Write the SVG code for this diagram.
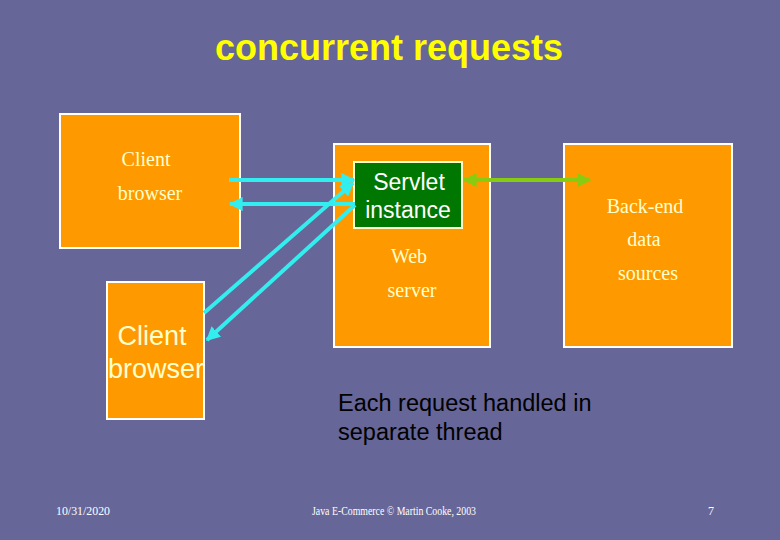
<svg xmlns="http://www.w3.org/2000/svg" width="780" height="540" viewBox="0 0 780 540">
<defs>
<style>
.box{fill:#FF9900;stroke:#FFFFFF;stroke-width:2}
.serif{font-family:"Liberation Serif",serif;font-size:20px;fill:#FFFFCC}
.sans{font-family:"Liberation Sans",Arial,sans-serif}
.cy{stroke:#33EEEE;stroke-width:4;fill:none}
.gr{stroke:#88CC11;stroke-width:4;fill:none}
.foot{font-family:"Liberation Serif",serif;font-size:12px;fill:#FFFFFF}
</style>
<marker id="ac" viewBox="0 0 10 10" refX="9" refY="5" markerWidth="3.5" markerHeight="3.5" orient="auto-start-reverse" markerUnits="strokeWidth"><path d="M0,0 L10,5 L0,10 z" fill="#33EEEE"/></marker>
<marker id="ag" viewBox="0 0 10 10" refX="9" refY="5" markerWidth="3.5" markerHeight="3.5" orient="auto-start-reverse" markerUnits="strokeWidth"><path d="M0,0 L10,5 L0,10 z" fill="#88CC11"/></marker>
</defs>
<rect x="0" y="0" width="780" height="540" fill="#666699"/>
<text x="389" y="60" text-anchor="middle" class="sans" font-size="36" font-weight="bold" fill="#FFFF00">concurrent requests</text>
<g id="client1">
<rect class="box" x="60" y="114" width="180" height="134"/>
<text class="serif" x="146" y="166" text-anchor="middle">Client</text>
<text class="serif" x="150" y="200" text-anchor="middle">browser</text>
</g>
<g id="webserver">
<rect class="box" x="334" y="144" width="156" height="203"/>
<text class="serif" x="409" y="263" text-anchor="middle">Web</text>
<text class="serif" x="412" y="297" text-anchor="middle">server</text>
</g>
<g id="servlet">
<rect x="354" y="162" width="108" height="66" fill="#007700" stroke="#FFFFCC" stroke-width="2"/>
<text class="sans" x="409" y="190" text-anchor="middle" font-size="23" fill="#FFFFFF">Servlet</text>
<text class="sans" x="408" y="218" text-anchor="middle" font-size="23" fill="#FFFFFF">instance</text>
</g>
<g id="backend">
<rect class="box" x="564" y="144" width="168" height="203"/>
<text class="serif" x="645" y="213" text-anchor="middle">Back-end</text>
<text class="serif" x="644" y="246" text-anchor="middle">data</text>
<text class="serif" x="648" y="280" text-anchor="middle">sources</text>
</g>
<g id="client2">
<rect class="box" x="107" y="282" width="97" height="137"/>
<text class="sans" x="152" y="345" text-anchor="middle" font-size="27" fill="#FFFFCC">Client</text>
<text class="sans" x="156" y="378" text-anchor="middle" font-size="27" fill="#FFFFCC">browser</text>
</g>
<g id="connectors">
<line class="cy" x1="229" y1="180" x2="354" y2="180" marker-end="url(#ac)"/>
<line class="cy" x1="355" y1="204" x2="230" y2="204" marker-end="url(#ac)"/>
<line class="cy" x1="204" y1="313" x2="353" y2="183" marker-end="url(#ac)"/>
<line class="cy" x1="355" y1="205" x2="207" y2="340" marker-end="url(#ac)"/>
<line class="gr" x1="464" y1="180" x2="590" y2="180" marker-start="url(#ag)" marker-end="url(#ag)"/>
</g>
<text class="sans" x="338" y="411" font-size="23.5" fill="#000000">Each request handled in</text>
<text class="sans" x="338" y="440" font-size="23.5" fill="#000000">separate thread</text>
<text class="foot" x="56" y="515" textLength="54" lengthAdjust="spacingAndGlyphs">10/31/2020</text>
<text class="foot" x="312" y="515" textLength="164" lengthAdjust="spacingAndGlyphs">Java E-Commerce © Martin Cooke, 2003</text>
<text class="foot" x="708" y="515">7</text>
</svg>
